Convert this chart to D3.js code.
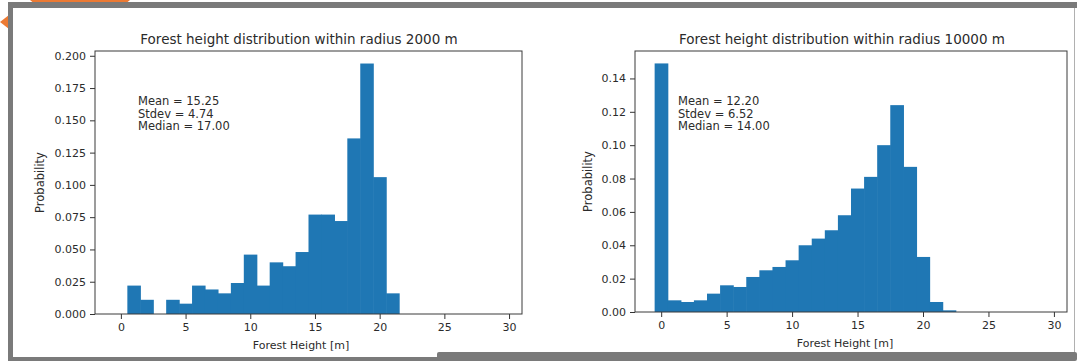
<!DOCTYPE html>
<html>
<head>
<meta charset="utf-8">
<script src="https://cdn.jsdelivr.net/npm/d3@7"></script>
<style>
  body { margin: 0; background: #fff; }
  svg { display: block; font-family: "DejaVu Sans", sans-serif; }
</style>
</head>
<body>
<div id="chart"></div>
<script>
// histogram bins (bin centres, width 1 m)
const binCenters = [0, 1, 2, 3, 4, 5, 6, 7, 8, 9, 10, 11, 12, 13, 14, 15, 16, 17, 18, 19, 20, 21, 22, 23, 24, 25, 26, 27, 28, 29];

// probabilities per bin
const probs2000 = [0, 0.022, 0.011, 0, 0.011, 0.008, 0.022, 0.019, 0.016, 0.024, 0.046, 0.022, 0.040, 0.037, 0.048, 0.077, 0.077, 0.072, 0.136, 0.194, 0.106, 0.016, 0, 0, 0, 0, 0, 0, 0, 0];
const probs10000 = [0.149, 0.007, 0.006, 0.007, 0.011, 0.016, 0.015, 0.021, 0.025, 0.027, 0.031, 0.040, 0.044, 0.049, 0.058, 0.074, 0.081, 0.100, 0.124, 0.087, 0.033, 0.006, 0.001, 0, 0, 0, 0, 0, 0, 0];

const xTicks = [0, 5, 10, 15, 20, 25, 30];
const yTicks2000 = [0, 0.025, 0.05, 0.075, 0.1, 0.125, 0.15, 0.175, 0.2];
const yTicks10000 = [0, 0.02, 0.04, 0.06, 0.08, 0.10, 0.12, 0.14];

const stats2000 = ["Mean = 15.25", "Stdev = 4.74", "Median = 17.00"];
const stats10000 = ["Mean = 12.20", "Stdev = 6.52", "Median = 14.00"];

const titles = ["Forest height distribution within radius 2000 m", "Forest height distribution within radius 10000 m"];

const W = 1077, H = 361;
const barColor = "#1f77b4";
const textColor = "#2b2b2b";

const svg = d3.select("#chart").append("svg")
    .attr("width", W)
    .attr("height", H);

// screenshot frame around the figure
function drawFrame() {
    const f = svg.append("g");
    f.append("polygon")
        .attr("points", "30,0 130,0 124,5 36,5")
        .attr("fill", "#ec7a33");
    f.append("polygon")
        .attr("points", "0,22 9,15 9,29")
        .attr("fill", "#ec7a33");
    f.append("rect").attr("x", 8).attr("y", 2).attr("width", W - 8).attr("height", 6).attr("fill", "#7a7a7a");
    f.append("rect").attr("x", 8).attr("y", 2).attr("width", 5).attr("height", H - 2).attr("fill", "#7a7a7a");
    f.append("rect").attr("x", 8).attr("y", 357).attr("width", 440).attr("height", 4).attr("fill", "#7a7a7a");
    f.append("rect").attr("x", 437).attr("y", 352).attr("width", W - 437).attr("height", 9)
        .attr("rx", 2).attr("fill", "#7a7a7a");
    f.append("line").attr("x1", 1074.5).attr("x2", 1074.5).attr("y1", 8).attr("y2", 352)
        .attr("stroke", "#b0b0b0").attr("stroke-width", 1);
}

function drawHistogram(opts) {
    const x = d3.scaleLinear()
        .domain([binCenters[0] - 0.5 - 1.5, binCenters[binCenters.length - 1] + 0.5 + 1.5])
        .range([opts.left, opts.right]);
    const yMax = d3.max(opts.values) * 1.05;
    const y = d3.scaleLinear()
        .domain([0, yMax])
        .range([opts.bottom, opts.top]);

    const g = svg.append("g");

    // bars (slight overlap so neighbouring bins merge like matplotlib)
    g.selectAll("rect.bar")
        .data(binCenters.map((c, i) => ({ c: c, v: opts.values[i] })).filter(d => d.v > 0))
        .enter()
        .append("rect")
        .attr("class", "bar")
        .attr("x", d => x(d.c - 0.5))
        .attr("width", d => x(d.c + 0.5) - x(d.c - 0.5) + 0.6)
        .attr("y", d => y(d.v))
        .attr("height", d => y(0) - y(d.v))
        .attr("fill", barColor);

    // axes
    const xAxis = g.append("g")
        .attr("transform", `translate(0,${opts.bottom})`)
        .call(d3.axisBottom(x).tickValues(xTicks).tickSize(5).tickPadding(4).tickFormat(d3.format("d")));
    const yAxis = g.append("g")
        .attr("transform", `translate(${opts.left},0)`)
        .call(d3.axisLeft(y).tickValues(opts.yTicks).tickSize(5).tickPadding(4).tickFormat(d3.format(opts.yFormat)));

    [xAxis, yAxis].forEach(a => {
        a.select(".domain").remove();
        a.selectAll("line").attr("stroke", "#333");
        a.selectAll("text")
            .attr("fill", textColor)
            .style("font-size", "11px")
            .style("font-family", "DejaVu Sans");
    });

    // spines
    g.append("rect")
        .attr("x", opts.left)
        .attr("y", opts.top)
        .attr("width", opts.right - opts.left)
        .attr("height", opts.bottom - opts.top)
        .attr("fill", "none")
        .attr("stroke", "#3a3a3a")
        .attr("stroke-width", 1);

    // title
    g.append("text")
        .attr("x", opts.titleX)
        .attr("y", opts.top - 7)
        .attr("text-anchor", "middle")
        .attr("fill", textColor)
        .style("font-size", "13.5px")
        .text(opts.title);

    // axis labels
    g.append("text")
        .attr("x", opts.xLabelX)
        .attr("y", opts.bottom + 35)
        .attr("text-anchor", "middle")
        .attr("fill", textColor)
        .style("font-size", "11px")
        .text("Forest Height [m]");

    g.append("text")
        .attr("transform", `translate(${opts.yLabelX},${(opts.top + opts.bottom) / 2}) rotate(-90)`)
        .attr("text-anchor", "middle")
        .attr("fill", textColor)
        .style("font-size", "11.5px")
        .text("Probability");

    // summary statistics
    opts.stats.forEach((s, i) => {
        g.append("text")
            .attr("x", opts.statsX)
            .attr("y", 105 + i * 12.5)
            .attr("fill", textColor)
            .style("font-size", "11.5px")
            .text(s);
    });
}

drawFrame();

drawHistogram({
    values: probs2000, yTicks: yTicks2000, yFormat: ".3f", stats: stats2000, title: titles[0],
    left: 95, right: 522, top: 51, bottom: 314,
    titleX: 299, xLabelX: 301, yLabelX: 44, statsX: 138
});

drawHistogram({
    values: probs10000, yTicks: yTicks10000, yFormat: ".2f", stats: stats10000, title: titles[1],
    left: 635, right: 1067, top: 51, bottom: 312,
    titleX: 842, xLabelX: 845, yLabelX: 592, statsX: 678
});
</script>
</body>
</html>
